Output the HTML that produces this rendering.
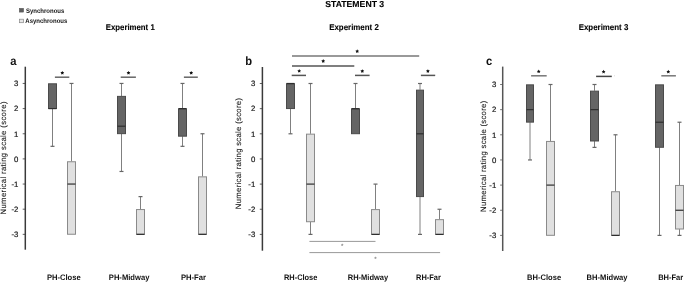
<!DOCTYPE html><html><head><meta charset="utf-8"><style>html,body{margin:0;padding:0;background:#fff;width:685px;height:282px;overflow:hidden}svg{display:block;-webkit-font-smoothing:antialiased;will-change:transform}text{font-family:"Liberation Sans",sans-serif;text-rendering:geometricPrecision}</style></head><body>
<svg width="685" height="282" viewBox="0 0 685 282">
<rect width="685" height="282" fill="#fff"/>
<text transform="translate(354.7,6.7) scale(1,1.0)" font-size="8.7" font-weight="bold" text-anchor="middle" textLength="59" lengthAdjust="spacingAndGlyphs" fill="#000" stroke="#000" stroke-width="0.1">STATEMENT 3</text>
<rect x="19.3" y="8.3" width="4.3" height="3.8" fill="#5e5e5e" stroke="#555" stroke-width="0.5"/>
<text transform="translate(26.0,12.6) scale(1,1.1)" font-size="6.0" font-weight="bold" fill="#111">Synchronous</text>
<rect x="19.5" y="19.2" width="4" height="3.5" fill="#e6e6e6" stroke="#888" stroke-width="0.7"/>
<text transform="translate(25.3,22.6) scale(1,1.1)" font-size="6.0" font-weight="bold" fill="#111">Asynchronous</text>
<text transform="translate(130.25,30.0) scale(1,1.07)" font-size="7.9" font-weight="bold" text-anchor="middle" textLength="48.9" lengthAdjust="spacingAndGlyphs" fill="#000" stroke="#000" stroke-width="0.1">Experiment 1</text>
<text transform="translate(354,30.0) scale(1,1.07)" font-size="7.9" font-weight="bold" text-anchor="middle" textLength="49.6" lengthAdjust="spacingAndGlyphs" fill="#000" stroke="#000" stroke-width="0.1">Experiment 2</text>
<text transform="translate(603.5,30.0) scale(1,1.07)" font-size="7.9" font-weight="bold" text-anchor="middle" textLength="49.6" lengthAdjust="spacingAndGlyphs" fill="#000" stroke="#000" stroke-width="0.1">Experiment 3</text>
<text transform="translate(10.3,64.6) scale(1,1.07)" font-size="11.2" font-weight="bold" fill="#111">a</text>
<line x1="25.3" y1="66.7" x2="25.3" y2="249.7" stroke="#3a3a3a" stroke-width="1.5"/>
<line x1="22.7" y1="234.35" x2="25.3" y2="234.35" stroke="#3a3a3a" stroke-width="0.8"/>
<text x="18.4" y="237.15" font-size="7.8" text-anchor="end" fill="#1a1a1a" stroke="#1a1a1a" stroke-width="0.2">-3</text>
<line x1="22.7" y1="209.2" x2="25.3" y2="209.2" stroke="#3a3a3a" stroke-width="0.8"/>
<text x="18.4" y="212" font-size="7.8" text-anchor="end" fill="#1a1a1a" stroke="#1a1a1a" stroke-width="0.2">-2</text>
<line x1="22.7" y1="184.05" x2="25.3" y2="184.05" stroke="#3a3a3a" stroke-width="0.8"/>
<text x="18.4" y="186.85" font-size="7.8" text-anchor="end" fill="#1a1a1a" stroke="#1a1a1a" stroke-width="0.2">-1</text>
<line x1="22.7" y1="158.9" x2="25.3" y2="158.9" stroke="#3a3a3a" stroke-width="0.8"/>
<text x="18.4" y="161.7" font-size="7.8" text-anchor="end" fill="#1a1a1a" stroke="#1a1a1a" stroke-width="0.2">0</text>
<line x1="22.7" y1="133.75" x2="25.3" y2="133.75" stroke="#3a3a3a" stroke-width="0.8"/>
<text x="18.4" y="136.55" font-size="7.8" text-anchor="end" fill="#1a1a1a" stroke="#1a1a1a" stroke-width="0.2">1</text>
<line x1="22.7" y1="108.6" x2="25.3" y2="108.6" stroke="#3a3a3a" stroke-width="0.8"/>
<text x="18.4" y="111.4" font-size="7.8" text-anchor="end" fill="#1a1a1a" stroke="#1a1a1a" stroke-width="0.2">2</text>
<line x1="22.7" y1="83.45" x2="25.3" y2="83.45" stroke="#3a3a3a" stroke-width="0.8"/>
<text x="18.4" y="86.25" font-size="7.8" text-anchor="end" fill="#1a1a1a" stroke="#1a1a1a" stroke-width="0.2">3</text>
<text transform="translate(6.1,158) rotate(-90)" font-size="7.8" text-anchor="middle" textLength="113" lengthAdjust="spacing" fill="#1e1e1e" stroke="#1e1e1e" stroke-width="0.12" y="0">Numerical rating scale (score)</text>
<text transform="translate(245.2,64.8) scale(1,1.07)" font-size="11.2" font-weight="bold" fill="#111">b</text>
<line x1="262.4" y1="67" x2="262.4" y2="250.7" stroke="#3a3a3a" stroke-width="1.5"/>
<line x1="259.8" y1="234.4" x2="262.4" y2="234.4" stroke="#3a3a3a" stroke-width="0.8"/>
<text x="255.3" y="237.2" font-size="7.8" text-anchor="end" fill="#1a1a1a" stroke="#1a1a1a" stroke-width="0.2">-3</text>
<line x1="259.8" y1="209.25" x2="262.4" y2="209.25" stroke="#3a3a3a" stroke-width="0.8"/>
<text x="255.3" y="212.05" font-size="7.8" text-anchor="end" fill="#1a1a1a" stroke="#1a1a1a" stroke-width="0.2">-2</text>
<line x1="259.8" y1="184.1" x2="262.4" y2="184.1" stroke="#3a3a3a" stroke-width="0.8"/>
<text x="255.3" y="186.9" font-size="7.8" text-anchor="end" fill="#1a1a1a" stroke="#1a1a1a" stroke-width="0.2">-1</text>
<line x1="259.8" y1="158.95" x2="262.4" y2="158.95" stroke="#3a3a3a" stroke-width="0.8"/>
<text x="255.3" y="161.75" font-size="7.8" text-anchor="end" fill="#1a1a1a" stroke="#1a1a1a" stroke-width="0.2">0</text>
<line x1="259.8" y1="133.8" x2="262.4" y2="133.8" stroke="#3a3a3a" stroke-width="0.8"/>
<text x="255.3" y="136.6" font-size="7.8" text-anchor="end" fill="#1a1a1a" stroke="#1a1a1a" stroke-width="0.2">1</text>
<line x1="259.8" y1="108.65" x2="262.4" y2="108.65" stroke="#3a3a3a" stroke-width="0.8"/>
<text x="255.3" y="111.45" font-size="7.8" text-anchor="end" fill="#1a1a1a" stroke="#1a1a1a" stroke-width="0.2">2</text>
<line x1="259.8" y1="83.5" x2="262.4" y2="83.5" stroke="#3a3a3a" stroke-width="0.8"/>
<text x="255.3" y="86.3" font-size="7.8" text-anchor="end" fill="#1a1a1a" stroke="#1a1a1a" stroke-width="0.2">3</text>
<text transform="translate(241.4,153.6) rotate(-90)" font-size="7.8" text-anchor="middle" textLength="111.2" lengthAdjust="spacing" fill="#1e1e1e" stroke="#1e1e1e" stroke-width="0.12" y="0">Numerical rating scale (score)</text>
<text transform="translate(486.1,64.5) scale(1,1.07)" font-size="11.2" font-weight="bold" fill="#111">c</text>
<line x1="502.7" y1="66.6" x2="502.7" y2="251" stroke="#555555" stroke-width="1.5"/>
<line x1="500.1" y1="235.4" x2="502.7" y2="235.4" stroke="#555555" stroke-width="0.8"/>
<text x="496.3" y="238.2" font-size="7.8" text-anchor="end" fill="#1a1a1a" stroke="#1a1a1a" stroke-width="0.2">-3</text>
<line x1="500.1" y1="210.25" x2="502.7" y2="210.25" stroke="#555555" stroke-width="0.8"/>
<text x="496.3" y="213.05" font-size="7.8" text-anchor="end" fill="#1a1a1a" stroke="#1a1a1a" stroke-width="0.2">-2</text>
<line x1="500.1" y1="185.1" x2="502.7" y2="185.1" stroke="#555555" stroke-width="0.8"/>
<text x="496.3" y="187.9" font-size="7.8" text-anchor="end" fill="#1a1a1a" stroke="#1a1a1a" stroke-width="0.2">-1</text>
<line x1="500.1" y1="159.95" x2="502.7" y2="159.95" stroke="#555555" stroke-width="0.8"/>
<text x="496.3" y="162.75" font-size="7.8" text-anchor="end" fill="#1a1a1a" stroke="#1a1a1a" stroke-width="0.2">0</text>
<line x1="500.1" y1="134.8" x2="502.7" y2="134.8" stroke="#555555" stroke-width="0.8"/>
<text x="496.3" y="137.6" font-size="7.8" text-anchor="end" fill="#1a1a1a" stroke="#1a1a1a" stroke-width="0.2">1</text>
<line x1="500.1" y1="109.65" x2="502.7" y2="109.65" stroke="#555555" stroke-width="0.8"/>
<text x="496.3" y="112.45" font-size="7.8" text-anchor="end" fill="#1a1a1a" stroke="#1a1a1a" stroke-width="0.2">2</text>
<line x1="500.1" y1="84.5" x2="502.7" y2="84.5" stroke="#555555" stroke-width="0.8"/>
<text x="496.3" y="87.3" font-size="7.8" text-anchor="end" fill="#1a1a1a" stroke="#1a1a1a" stroke-width="0.2">3</text>
<text transform="translate(485.8,156.3) rotate(-90)" font-size="7.8" text-anchor="middle" textLength="111.2" lengthAdjust="spacing" fill="#1e1e1e" stroke="#1e1e1e" stroke-width="0.12" y="0">Numerical rating scale (score)</text>
<line x1="52.5" y1="108.6" x2="52.5" y2="146.33" stroke="#808080" stroke-width="1"/>
<line x1="50.5" y1="146.33" x2="54.5" y2="146.33" stroke="#666666" stroke-width="1.2"/>
<rect x="48.5" y="83.8" width="8" height="24.7" fill="#656565" stroke="#4a4a4a" stroke-width="1"/>
<line x1="48.5" y1="108.6" x2="56.5" y2="108.6" stroke="#2e2e2e" stroke-width="1.2"/>
<line x1="71.5" y1="83.45" x2="71.5" y2="161.41" stroke="#808080" stroke-width="1"/>
<line x1="69.5" y1="83.45" x2="73.5" y2="83.45" stroke="#666666" stroke-width="1.2"/>
<rect x="67.5" y="161.76" width="8" height="72.48" fill="#e0e0e0" stroke="#8a8a8a" stroke-width="1"/>
<line x1="67.5" y1="184.05" x2="75.5" y2="184.05" stroke="#2e2e2e" stroke-width="1.2"/>
<line x1="121.5" y1="83.45" x2="121.5" y2="96.03" stroke="#808080" stroke-width="1"/>
<line x1="119.5" y1="83.45" x2="123.5" y2="83.45" stroke="#666666" stroke-width="1.2"/>
<line x1="121.5" y1="133.75" x2="121.5" y2="171.47" stroke="#808080" stroke-width="1"/>
<line x1="119.5" y1="171.47" x2="123.5" y2="171.47" stroke="#666666" stroke-width="1.2"/>
<rect x="117.5" y="96.38" width="8" height="37.27" fill="#656565" stroke="#4a4a4a" stroke-width="1"/>
<line x1="117.5" y1="126.21" x2="125.5" y2="126.21" stroke="#2e2e2e" stroke-width="1.2"/>
<line x1="140.5" y1="196.62" x2="140.5" y2="209.2" stroke="#808080" stroke-width="1"/>
<line x1="138.5" y1="196.62" x2="142.5" y2="196.62" stroke="#666666" stroke-width="1.2"/>
<rect x="136.5" y="209.55" width="8" height="24.7" fill="#e0e0e0" stroke="#8a8a8a" stroke-width="1"/>
<line x1="136.5" y1="234.35" x2="144.5" y2="234.35" stroke="#2e2e2e" stroke-width="1.2"/>
<line x1="182.5" y1="83.45" x2="182.5" y2="108.6" stroke="#808080" stroke-width="1"/>
<line x1="180.5" y1="83.45" x2="184.5" y2="83.45" stroke="#666666" stroke-width="1.2"/>
<line x1="182.5" y1="136.27" x2="182.5" y2="146.33" stroke="#808080" stroke-width="1"/>
<line x1="180.5" y1="146.33" x2="184.5" y2="146.33" stroke="#666666" stroke-width="1.2"/>
<rect x="178.5" y="108.95" width="8" height="27.22" fill="#656565" stroke="#4a4a4a" stroke-width="1"/>
<line x1="178.5" y1="108.6" x2="186.5" y2="108.6" stroke="#2e2e2e" stroke-width="1.2"/>
<line x1="202.5" y1="133.75" x2="202.5" y2="176.5" stroke="#808080" stroke-width="1"/>
<line x1="200.5" y1="133.75" x2="204.5" y2="133.75" stroke="#666666" stroke-width="1.2"/>
<rect x="198.5" y="176.85" width="8" height="57.39" fill="#e0e0e0" stroke="#8a8a8a" stroke-width="1"/>
<line x1="198.5" y1="234.35" x2="206.5" y2="234.35" stroke="#2e2e2e" stroke-width="1.2"/>
<line x1="290.5" y1="108.65" x2="290.5" y2="133.8" stroke="#808080" stroke-width="1"/>
<line x1="288.5" y1="133.8" x2="292.5" y2="133.8" stroke="#666666" stroke-width="1.2"/>
<rect x="286.5" y="83.85" width="8" height="24.7" fill="#656565" stroke="#4a4a4a" stroke-width="1"/>
<line x1="286.5" y1="83.5" x2="294.5" y2="83.5" stroke="#2e2e2e" stroke-width="1.2"/>
<line x1="310.5" y1="83.5" x2="310.5" y2="133.8" stroke="#808080" stroke-width="1"/>
<line x1="308.5" y1="83.5" x2="312.5" y2="83.5" stroke="#666666" stroke-width="1.2"/>
<line x1="310.5" y1="221.82" x2="310.5" y2="234.4" stroke="#808080" stroke-width="1"/>
<line x1="308.5" y1="234.4" x2="312.5" y2="234.4" stroke="#666666" stroke-width="1.2"/>
<rect x="306.5" y="134.15" width="8" height="87.58" fill="#e0e0e0" stroke="#8a8a8a" stroke-width="1"/>
<line x1="306.5" y1="184.1" x2="314.5" y2="184.1" stroke="#2e2e2e" stroke-width="1.2"/>
<line x1="355.5" y1="83.5" x2="355.5" y2="108.65" stroke="#808080" stroke-width="1"/>
<line x1="353.5" y1="83.5" x2="357.5" y2="83.5" stroke="#666666" stroke-width="1.2"/>
<rect x="351.5" y="109" width="8" height="24.7" fill="#656565" stroke="#4a4a4a" stroke-width="1"/>
<line x1="351.5" y1="108.65" x2="359.5" y2="108.65" stroke="#2e2e2e" stroke-width="1.2"/>
<line x1="375.5" y1="184.1" x2="375.5" y2="209.25" stroke="#808080" stroke-width="1"/>
<line x1="373.5" y1="184.1" x2="377.5" y2="184.1" stroke="#666666" stroke-width="1.2"/>
<rect x="371.5" y="209.6" width="8" height="24.7" fill="#e0e0e0" stroke="#8a8a8a" stroke-width="1"/>
<line x1="371.5" y1="234.4" x2="379.5" y2="234.4" stroke="#2e2e2e" stroke-width="1.2"/>
<line x1="420" y1="83.5" x2="420" y2="89.79" stroke="#808080" stroke-width="1"/>
<line x1="418" y1="83.5" x2="422" y2="83.5" stroke="#666666" stroke-width="1.2"/>
<line x1="420" y1="196.67" x2="420" y2="234.4" stroke="#808080" stroke-width="1"/>
<line x1="418" y1="234.4" x2="422" y2="234.4" stroke="#666666" stroke-width="1.2"/>
<rect x="416.5" y="90.14" width="7" height="106.44" fill="#656565" stroke="#4a4a4a" stroke-width="1"/>
<line x1="416.5" y1="133.8" x2="423.5" y2="133.8" stroke="#2e2e2e" stroke-width="1.2"/>
<line x1="439.5" y1="209.25" x2="439.5" y2="219.31" stroke="#808080" stroke-width="1"/>
<line x1="437.5" y1="209.25" x2="441.5" y2="209.25" stroke="#666666" stroke-width="1.2"/>
<rect x="435.5" y="219.66" width="8" height="14.64" fill="#e0e0e0" stroke="#8a8a8a" stroke-width="1"/>
<line x1="435.5" y1="234.4" x2="443.5" y2="234.4" stroke="#2e2e2e" stroke-width="1.2"/>
<line x1="530" y1="122.22" x2="530" y2="159.95" stroke="#808080" stroke-width="1"/>
<line x1="528" y1="159.95" x2="532" y2="159.95" stroke="#666666" stroke-width="1.2"/>
<rect x="526.5" y="84.85" width="7" height="37.27" fill="#656565" stroke="#4a4a4a" stroke-width="1"/>
<line x1="526.5" y1="109.65" x2="533.5" y2="109.65" stroke="#2e2e2e" stroke-width="1.2"/>
<line x1="550.5" y1="84.5" x2="550.5" y2="141.09" stroke="#808080" stroke-width="1"/>
<line x1="548.5" y1="84.5" x2="552.5" y2="84.5" stroke="#666666" stroke-width="1.2"/>
<rect x="546.5" y="141.44" width="8" height="93.86" fill="#e0e0e0" stroke="#8a8a8a" stroke-width="1"/>
<line x1="546.5" y1="185.1" x2="554.5" y2="185.1" stroke="#2e2e2e" stroke-width="1.2"/>
<line x1="594.5" y1="84.5" x2="594.5" y2="90.79" stroke="#808080" stroke-width="1"/>
<line x1="592.5" y1="84.5" x2="596.5" y2="84.5" stroke="#666666" stroke-width="1.2"/>
<line x1="594.5" y1="141.09" x2="594.5" y2="147.38" stroke="#808080" stroke-width="1"/>
<line x1="592.5" y1="147.38" x2="596.5" y2="147.38" stroke="#666666" stroke-width="1.2"/>
<rect x="590.5" y="91.14" width="8" height="49.85" fill="#656565" stroke="#4a4a4a" stroke-width="1"/>
<line x1="590.5" y1="109.65" x2="598.5" y2="109.65" stroke="#2e2e2e" stroke-width="1.2"/>
<line x1="615.5" y1="134.8" x2="615.5" y2="191.39" stroke="#808080" stroke-width="1"/>
<line x1="613.5" y1="134.8" x2="617.5" y2="134.8" stroke="#666666" stroke-width="1.2"/>
<rect x="611.5" y="191.74" width="8" height="43.56" fill="#e0e0e0" stroke="#8a8a8a" stroke-width="1"/>
<line x1="611.5" y1="235.4" x2="619.5" y2="235.4" stroke="#2e2e2e" stroke-width="1.2"/>
<line x1="659.5" y1="147.38" x2="659.5" y2="235.4" stroke="#808080" stroke-width="1"/>
<line x1="657.5" y1="235.4" x2="661.5" y2="235.4" stroke="#666666" stroke-width="1.2"/>
<rect x="655.5" y="84.85" width="8" height="62.42" fill="#656565" stroke="#4a4a4a" stroke-width="1"/>
<line x1="655.5" y1="122.22" x2="663.5" y2="122.22" stroke="#2e2e2e" stroke-width="1.2"/>
<line x1="679.5" y1="122.22" x2="679.5" y2="185.1" stroke="#808080" stroke-width="1"/>
<line x1="677.5" y1="122.22" x2="681.5" y2="122.22" stroke="#666666" stroke-width="1.2"/>
<line x1="679.5" y1="229.11" x2="679.5" y2="235.4" stroke="#808080" stroke-width="1"/>
<line x1="677.5" y1="235.4" x2="681.5" y2="235.4" stroke="#666666" stroke-width="1.2"/>
<rect x="675.5" y="185.45" width="8" height="43.56" fill="#e0e0e0" stroke="#8a8a8a" stroke-width="1"/>
<line x1="675.5" y1="210.25" x2="683.5" y2="210.25" stroke="#2e2e2e" stroke-width="1.2"/>
<line x1="54.9" y1="77.2" x2="69.3" y2="77.2" stroke="#666" stroke-width="1.5"/>
<polygon points="62.30,70.90 62.92,72.05 64.20,72.28 63.30,73.22 63.48,74.52 62.30,73.95 61.12,74.52 61.30,73.22 60.40,72.28 61.68,72.05" fill="#111"/>
<line x1="120.7" y1="77.2" x2="135.9" y2="77.2" stroke="#666" stroke-width="1.5"/>
<polygon points="128.50,70.90 129.12,72.05 130.40,72.28 129.50,73.22 129.68,74.52 128.50,73.95 127.32,74.52 127.50,73.22 126.60,72.28 127.88,72.05" fill="#111"/>
<line x1="183.9" y1="77.2" x2="197.8" y2="77.2" stroke="#666" stroke-width="1.5"/>
<polygon points="191.20,70.90 191.82,72.05 193.10,72.28 192.20,73.22 192.38,74.52 191.20,73.95 190.02,74.52 190.20,73.22 189.30,72.28 190.58,72.05" fill="#111"/>
<line x1="292" y1="55.9" x2="419.2" y2="55.9" stroke="#777" stroke-width="1.5"/>
<polygon points="357.20,49.30 357.82,50.45 359.10,50.68 358.20,51.62 358.38,52.92 357.20,52.35 356.02,52.92 356.20,51.62 355.30,50.68 356.58,50.45" fill="#111"/>
<line x1="292" y1="66.1" x2="354.3" y2="66.1" stroke="#555" stroke-width="1.5"/>
<polygon points="323.20,59.10 323.82,60.25 325.10,60.48 324.20,61.42 324.38,62.72 323.20,62.15 322.02,62.72 322.20,61.42 321.30,60.48 322.58,60.25" fill="#111"/>
<line x1="291.7" y1="75.4" x2="306" y2="75.4" stroke="#555" stroke-width="1.5"/>
<polygon points="299.20,69.00 299.82,70.15 301.10,70.38 300.20,71.32 300.38,72.62 299.20,72.05 298.02,72.62 298.20,71.32 297.30,70.38 298.58,70.15" fill="#111"/>
<line x1="355" y1="75.4" x2="369.6" y2="75.4" stroke="#555" stroke-width="1.5"/>
<polygon points="362.30,69.20 362.92,70.35 364.20,70.58 363.30,71.52 363.48,72.82 362.30,72.25 361.12,72.82 361.30,71.52 360.40,70.58 361.68,70.35" fill="#111"/>
<line x1="420.9" y1="75.4" x2="435.2" y2="75.4" stroke="#555" stroke-width="1.5"/>
<polygon points="427.90,69.20 428.52,70.35 429.80,70.58 428.90,71.52 429.08,72.82 427.90,72.25 426.72,72.82 426.90,71.52 426.00,70.58 427.28,70.35" fill="#111"/>
<line x1="309.4" y1="241.4" x2="375.5" y2="241.4" stroke="#999" stroke-width="1.0"/>
<text x="342.3" y="248.3" font-size="6.2" font-weight="bold" text-anchor="middle" fill="#888">*</text>
<line x1="309.4" y1="252.6" x2="440.1" y2="252.6" stroke="#999" stroke-width="1.0"/>
<text x="375.5" y="260.8" font-size="6.2" font-weight="bold" text-anchor="middle" fill="#888">*</text>
<line x1="531.1" y1="75.8" x2="546.7" y2="75.8" stroke="#777" stroke-width="1.5"/>
<polygon points="538.70,69.50 539.32,70.65 540.60,70.88 539.70,71.82 539.88,73.12 538.70,72.55 537.52,73.12 537.70,71.82 536.80,70.88 538.08,70.65" fill="#111"/>
<line x1="596.1" y1="76.4" x2="611.8" y2="76.4" stroke="#444" stroke-width="1.5"/>
<polygon points="603.60,69.80 604.22,70.95 605.50,71.18 604.60,72.12 604.78,73.42 603.60,72.85 602.42,73.42 602.60,72.12 601.70,71.18 602.98,70.95" fill="#111"/>
<line x1="661.3" y1="75.8" x2="675.9" y2="75.8" stroke="#777" stroke-width="1.5"/>
<polygon points="668.30,69.80 668.92,70.95 670.20,71.18 669.30,72.12 669.48,73.42 668.30,72.85 667.12,73.42 667.30,72.12 666.40,71.18 667.68,70.95" fill="#111"/>
<rect x="614" y="75.3" width="1" height="1" fill="#ddd"/>
<text transform="translate(63.8,279.9) scale(1,1.05)" font-size="7.6" font-weight="bold" text-anchor="middle" textLength="33.8" lengthAdjust="spacingAndGlyphs" fill="#111">PH-Close</text>
<text transform="translate(129.1,279.9) scale(1,1.05)" font-size="7.6" font-weight="bold" text-anchor="middle" textLength="40.6" lengthAdjust="spacingAndGlyphs" fill="#111">PH-Midway</text>
<text transform="translate(193.45,279.9) scale(1,1.05)" font-size="7.6" font-weight="bold" text-anchor="middle" textLength="25.1" lengthAdjust="spacingAndGlyphs" fill="#111">PH-Far</text>
<text transform="translate(300.65,279.9) scale(1,1.05)" font-size="7.6" font-weight="bold" text-anchor="middle" textLength="33.5" lengthAdjust="spacingAndGlyphs" fill="#111">RH-Close</text>
<text transform="translate(367.95,279.9) scale(1,1.05)" font-size="7.6" font-weight="bold" text-anchor="middle" textLength="40.5" lengthAdjust="spacingAndGlyphs" fill="#111">RH-Midway</text>
<text transform="translate(428.45,279.9) scale(1,1.05)" font-size="7.6" font-weight="bold" text-anchor="middle" textLength="24.9" lengthAdjust="spacingAndGlyphs" fill="#111">RH-Far</text>
<text transform="translate(544.1,279.9) scale(1,1.05)" font-size="7.6" font-weight="bold" text-anchor="middle" textLength="34" lengthAdjust="spacingAndGlyphs" fill="#111">BH-Close</text>
<text transform="translate(607.05,279.9) scale(1,1.05)" font-size="7.6" font-weight="bold" text-anchor="middle" textLength="40.9" lengthAdjust="spacingAndGlyphs" fill="#111">BH-Midway</text>
<text transform="translate(670.7,279.9) scale(1,1.05)" font-size="7.6" font-weight="bold" text-anchor="middle" textLength="25" lengthAdjust="spacingAndGlyphs" fill="#111">BH-Far</text>
</svg></body></html>
